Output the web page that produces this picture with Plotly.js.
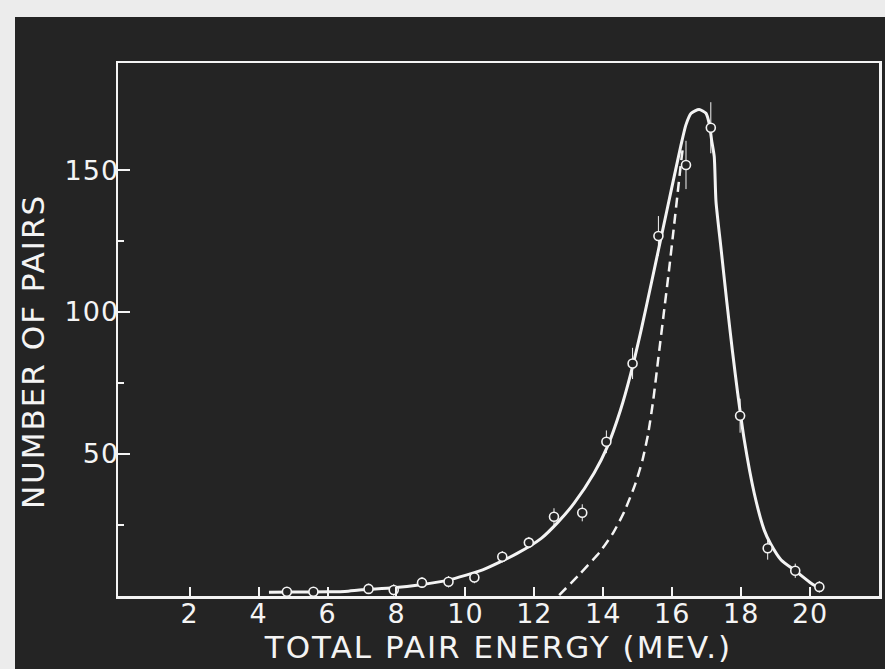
<!DOCTYPE html>
<html>
<head>
<meta charset="utf-8">
<script src="https://cdn.plot.ly/plotly-3.0.1.min.js"></script>
<style>
  html, body { margin: 0; padding: 0; background: #ececec; width: 885px; height: 669px; overflow: hidden; }
  #photo { position: absolute; left: 15px; top: 17px; right: 0; bottom: 0; background: #242424; }
  #chart { position: absolute; left: 0; top: 0; width: 885px; height: 669px; }
  #chart .xtitle, #chart .ytitle { letter-spacing: 2px; }
  #chart .xtick text, #chart .ytick text { letter-spacing: 1px; }
</style>
</head>
<body>
<div id="photo"></div>
<div id="chart"></div>
<script>
// Measured points (total pair energy in MeV, number of pairs, error)
const energy = [4.82, 5.59, 7.19, 7.92, 8.74, 9.51, 10.26, 11.07, 11.84, 12.57, 13.39, 14.09, 14.85, 15.6, 16.4, 17.12, 17.97, 18.77, 19.57, 20.27];
const pairs  = [1.5, 1.5, 2.5, 2.1, 4.7, 5.0, 6.5, 13.8, 18.8, 27.9, 29.3, 54.3, 81.9, 126.8, 151.8, 164.9, 63.5, 16.8, 8.9, 3.2];
const pairsErr = [1, 1, 1.8, 2, 1.9, 2, 2, 2, 2, 3, 3, 4, 5.5, 7, 8.5, 9, 6, 4, 2.5, 2];

// Solid curve (drawn through the data)
const solidX = [4.3, 5.0, 6.0, 6.5, 7.0, 7.9, 8.7, 9.5, 10.5, 11.5, 12.2, 12.7, 13.15, 13.73, 14.12, 14.5, 14.8, 15.1, 15.4, 15.7, 16.0, 16.25, 16.4, 16.55, 16.78, 16.98, 17.08, 17.15, 17.22, 17.27, 17.42, 17.58, 17.75, 17.9, 18.09, 18.38, 18.67, 18.85, 19.16, 19.57, 20.03, 20.32];
const solidY = [1.3, 1.4, 1.5, 1.6, 2.2, 2.9, 4.0, 5.6, 9.2, 15, 20.3, 26.2, 32.6, 43.2, 52.6, 65.5, 78.4, 93.7, 110.5, 127.5, 144.5, 158.5, 166, 170, 171.3, 170, 166, 160, 154.7, 139, 122, 104, 86, 71.4, 55, 36.2, 23.2, 18.5, 12.7, 8.9, 4.5, 2.4];

// Dashed curve
const dashX = [12.72, 13.3, 13.9, 14.3, 14.62, 14.93, 15.14, 15.3, 15.45, 15.6, 15.75, 15.9, 16.04, 16.15, 16.24, 16.32];
const dashY = [0.3, 7.5, 15.5, 22.5, 30, 39.5, 48, 57, 69, 84, 99, 114, 129, 141, 151, 159];

const xTicks = [2, 4, 6, 8, 10, 12, 14, 16, 18, 20];
const xTickText = ['2', '4', '6', '8', '10', '12', '14', '16', '18', '20'];
const yTicks = [50, 100, 150];
const yTickText = ['50', '100', '150'];
const yMinorTicks = [25, 75, 125];

const FONT = 'DejaVu Sans, Liberation Sans, sans-serif';
const INK = '#f4f4f4';

const traces = [
  {
    x: dashX, y: dashY, type: 'scatter', mode: 'lines',
    line: { color: INK, width: 2.5, dash: '10px,6px', shape: 'spline', smoothing: 0.6 },
    hoverinfo: 'skip', showlegend: false
  },
  {
    x: solidX, y: solidY, type: 'scatter', mode: 'lines',
    line: { color: INK, width: 3, shape: 'spline', smoothing: 0.6 },
    hoverinfo: 'skip', showlegend: false
  },
  {
    x: energy, y: pairs, type: 'scatter', mode: 'markers',
    marker: { symbol: 'circle', size: 9, color: '#242424', line: { color: INK, width: 1.6 } },
    error_y: { type: 'data', array: pairsErr, visible: true, color: INK, thickness: 1, width: 0 },
    hoverinfo: 'skip', showlegend: false
  }
];

const layout = {
  width: 885, height: 669,
  margin: { l: 118, r: 6, t: 63, b: 73, pad: 0 },
  paper_bgcolor: 'rgba(0,0,0,0)',
  plot_bgcolor: 'rgba(0,0,0,0)',
  showlegend: false,
  xaxis: {
    range: [-0.08, 22.0],
    showline: true, mirror: true, linecolor: INK, linewidth: 2.5,
    ticks: 'inside', ticklen: 9, tickwidth: 2, tickcolor: INK,
    tickmode: 'array', tickvals: xTicks, ticktext: xTickText,
    tickfont: { family: FONT, size: 27, color: INK },
    ticklabelstandoff: -8,
    showgrid: false, zeroline: false,
    title: { text: 'TOTAL PAIR ENERGY (MEV.)', font: { family: FONT, size: 31, color: INK }, standoff: 6 }
  },
  yaxis: {
    range: [0, 187.7],
    showline: true, mirror: true, linecolor: INK, linewidth: 2.5,
    ticks: 'inside', ticklen: 12, tickwidth: 2, tickcolor: INK,
    tickmode: 'array', tickvals: yTicks, ticktext: yTickText,
    minor: { tickmode: 'array', tickvals: yMinorTicks, ticks: 'inside', ticklen: 6, tickwidth: 2, tickcolor: INK, showgrid: false },
    tickfont: { family: FONT, size: 27, color: INK },
    ticklabelstandoff: -9,
    showgrid: false, zeroline: false,
    title: { text: 'NUMBER OF PAIRS', font: { family: FONT, size: 31, color: INK }, standoff: 14 }
  }
};

Plotly.newPlot('chart', traces, layout, { displayModeBar: false, staticPlot: true }).then(function (gd) {
  // the hand-lettered y title sits a little below the middle of the frame
  const yt = gd.querySelector('.ytitle');
  if (yt) {
    const t = yt.getAttribute('transform') || '';
    yt.setAttribute('transform', 'translate(0,22) ' + t);
  }
});
</script>
</body>
</html>
